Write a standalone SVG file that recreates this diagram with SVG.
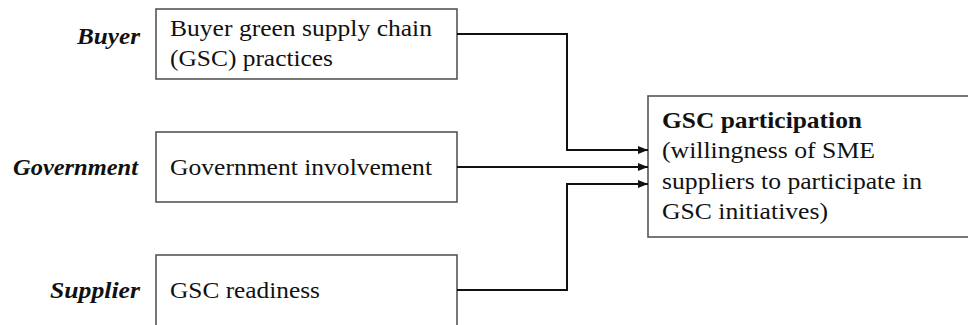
<svg xmlns="http://www.w3.org/2000/svg" width="968" height="325" viewBox="0 0 968 325">
<defs>
<style>
.box{fill:#fff;stroke:#555;stroke-width:1.6}
.t{font-size:23px;fill:#111}
.lab{font-size:23px;font-weight:bold;font-style:italic;fill:#111;text-anchor:end}
.b{font-weight:bold}
.c{fill:none;stroke:#111;stroke-width:2}
</style>
<marker id="ah" markerWidth="10" markerHeight="8" refX="10" refY="4" orient="auto" markerUnits="userSpaceOnUse">
<path d="M0,0 L10,4 L0,8 Z" fill="#111"/>
</marker>
</defs>
<rect width="968" height="325" fill="#fff"/>
<g font-family="Liberation Serif">
<g id="buyer">
<text class="lab" x="140" y="44" textLength="63" lengthAdjust="spacingAndGlyphs">Buyer</text>
<rect class="box" x="156" y="9" width="301" height="70"/>
<text class="t" x="170" y="36" textLength="262" lengthAdjust="spacingAndGlyphs">Buyer green supply chain</text>
<text class="t" x="170" y="66" textLength="163" lengthAdjust="spacingAndGlyphs">(GSC) practices</text>
</g>
<g id="government">
<text class="lab" x="138" y="175" textLength="125" lengthAdjust="spacingAndGlyphs">Government</text>
<rect class="box" x="156" y="132" width="301" height="70"/>
<text class="t" x="170" y="175" textLength="262" lengthAdjust="spacingAndGlyphs">Government involvement</text>
</g>
<g id="supplier">
<text class="lab" x="140" y="298" textLength="90" lengthAdjust="spacingAndGlyphs">Supplier</text>
<rect class="box" x="156" y="255" width="301" height="80"/>
<text class="t" x="170" y="298" textLength="150" lengthAdjust="spacingAndGlyphs">GSC readiness</text>
</g>
<g id="participation">
<rect class="box" x="648" y="96" width="330" height="141"/>
<text class="t b" x="662" y="128" textLength="200" lengthAdjust="spacingAndGlyphs">GSC participation</text>
<text class="t" x="662" y="158" textLength="213" lengthAdjust="spacingAndGlyphs">(willingness of SME</text>
<text class="t" x="662" y="189" textLength="260" lengthAdjust="spacingAndGlyphs">suppliers to participate in</text>
<text class="t" x="662" y="219" textLength="166" lengthAdjust="spacingAndGlyphs">GSC initiatives)</text>
</g>
</g>
<g id="connectors">
<path class="c" d="M457,34 H567 V150 H648" marker-end="url(#ah)"/>
<path class="c" d="M457,167 H648" marker-end="url(#ah)"/>
<path class="c" d="M457,290 H567 V184 H648" marker-end="url(#ah)"/>
</g>
</svg>
